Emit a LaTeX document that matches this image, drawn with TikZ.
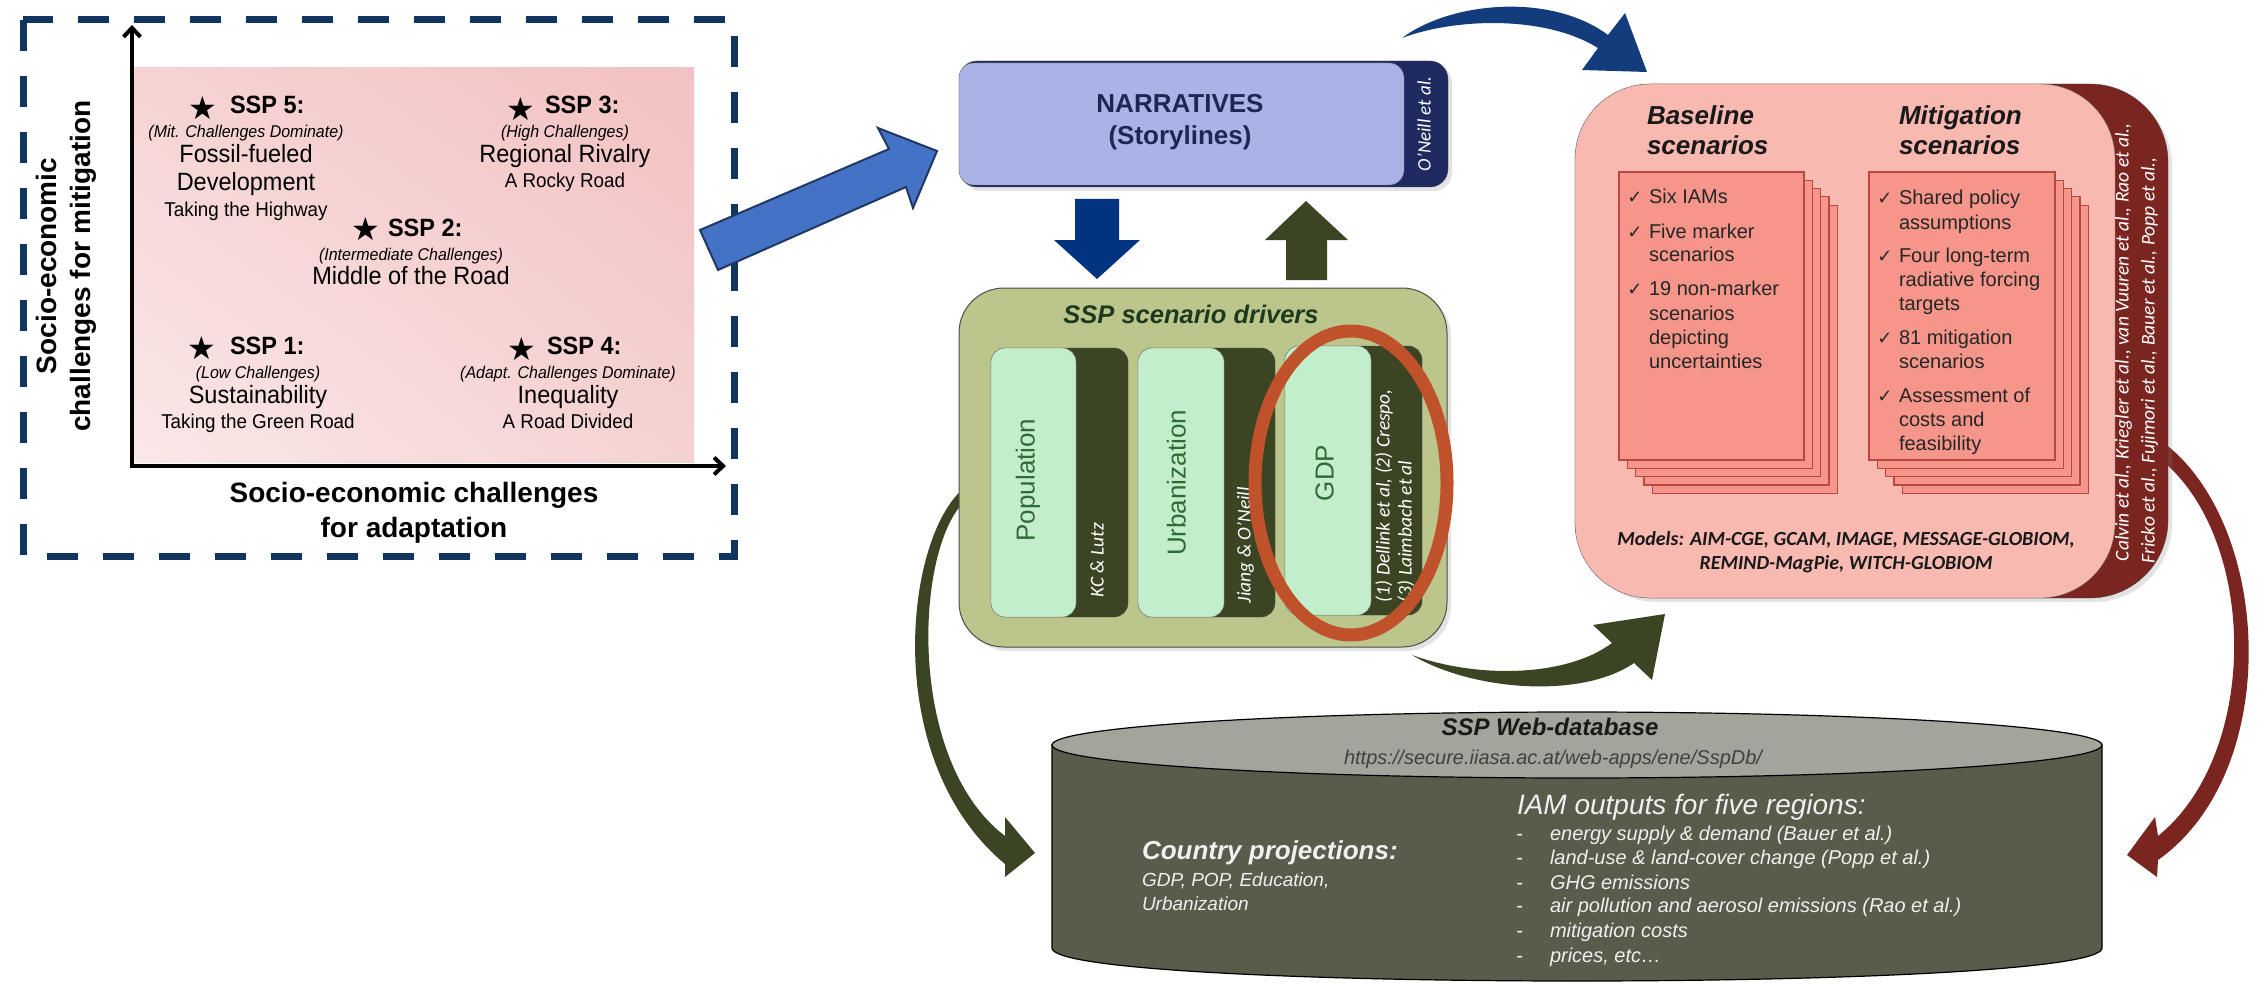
\documentclass[tikz,border=0pt]{standalone}
\usepackage{fontspec}
\setmainfont{Liberation Sans}
\newfontfamily\nar[FakeStretch=0.94]{Liberation Sans}
\newfontfamily\calf{Carlito}
\newfontfamily\dejav{DejaVu Sans}
\usetikzlibrary{arrows.meta,shadows,shadings}
\newcommand\fsz[1]{\fontsize{#1}{#1}\selectfont}
\definecolor{dashnavy}{HTML}{0F3560}
\definecolor{pUL}{HTML}{F6D3D3}
\definecolor{pUR}{HTML}{F3C1C1}
\definecolor{pLL}{HTML}{FAE8E8}
\definecolor{pLR}{HTML}{F5D2D2}
\definecolor{blueArr}{HTML}{4472C4}
\definecolor{blueArrB}{HTML}{1F3864}
\definecolor{narrFill}{HTML}{AAB3E6}
\definecolor{narrTab}{HTML}{1F2A60}
\definecolor{narrText}{HTML}{1C2752}
\definecolor{navyArr}{HTML}{003380}
\definecolor{olive}{HTML}{3B4423}
\definecolor{drvFill}{HTML}{BCC68C}
\definecolor{mint}{HTML}{C2EECC}
\definecolor{drvText}{HTML}{1E3A1E}
\definecolor{colText}{HTML}{2E6B36}
\definecolor{rust}{HTML}{C0522B}
\definecolor{salmon}{HTML}{F8B9B1}
\definecolor{pagec}{HTML}{F6968A}
\definecolor{pageB}{HTML}{B84840}
\definecolor{brownTab}{HTML}{7B2521}
\definecolor{topArr}{HTML}{123C7B}
\definecolor{cylTop}{HTML}{A4A49C}
\definecolor{cylBody}{HTML}{5A5B4B}
\begin{document}
\begin{tikzpicture}[x=1pt,y=-1pt,
  every node/.style={inner sep=0pt,outer sep=0pt,anchor=mid},
  ssph/.style={font=\nar\bfseries\fsz{25},anchor=mid west},
  sspsub/.style={font=\nar\itshape\fsz{17}},
  sspname/.style={font=\nar\fsz{25}},
  ssptag/.style={font=\nar\fsz{20}},
  starsym/.style={font=\dejav\fsz{32},anchor=center},
  axl/.style={font=\bfseries\fsz{28}},
  coltxt/.style={font=\fsz{26},text=colText,rotate=90},
  colref/.style={font=\calf\itshape\fsz{19.5},text=white,rotate=90,anchor=mid west},
  heads/.style={font=\bfseries\itshape\fsz{26},text=black!90,anchor=mid west},
  item/.style={font=\fsz{20},text=black!85,anchor=mid west},
  tick/.style={font=\dejav\fsz{18},text=black!85},
  cyl/.style={font=\itshape\fsz{20},text=white!94!black,anchor=mid west},
  tabref/.style={font=\calf\itshape\fsz{19.5},text=white,rotate=90,anchor=mid west},
  shad/.style={drop shadow={opacity=0.22,shadow xshift=4pt,shadow yshift=-4pt}}
]
\useasboundingbox (0,0) rectangle (2267,987);
\fill[white] (0,0) rectangle (2267,987);

% ---------------- left panel ----------------
\shade[upper left=pUL, upper right=pUR, lower left=pLL, lower right=pLR] (134,68) rectangle (694,462);
\draw[dashnavy, line width=7, dash pattern=on 31pt off 25pt] (23,20) rectangle (734,556);
\coordinate (org) at (132,466);
\coordinate (ytop) at (132,25);
\coordinate (xend) at (726,466);
\draw[line width=4.5, -{Straight Barb[length=9pt,width=17pt,line width=4pt]}] (org) -- (ytop);
\draw[line width=4.5, -{Straight Barb[length=9pt,width=17pt,line width=4pt]}] ([xshift=-2.25pt]org) -- (xend);

\node[axl, rotate=90] (yl1) at (54,266) {Socio-economic};
\node[axl, rotate=90] (yl2) at (88,266) {challenges for mitigation};
\node[axl] (xl1) at (414,500) {Socio-economic challenges};
\node[axl] (xl2) at (414,535) {for adaptation};

\node[starsym] (s5s) at (203,108) {★};
\node[ssph] (s5h) at (230,111) {SSP 5:};
\node[sspsub] (s5a) at (246,135) {(Mit. Challenges Dominate)};
\node[sspname] (s5b) at (246,160) {Fossil-fueled};
\node[sspname] (s5c) at (246,188) {Development};
\node[ssptag] (s5d) at (246,214) {Taking the Highway};

\node[starsym] (s3s) at (521,109) {★};
\node[ssph] (s3h) at (545,111) {SSP 3:};
\node[sspsub] (s3a) at (565,135) {(High Challenges)};
\node[sspname] (s3b) at (565,160) {Regional Rivalry};
\node[ssptag] (s3c) at (565,185) {A Rocky Road};

\node[starsym] (s2s) at (366,229) {★};
\node[ssph] (s2h) at (388,234) {SSP 2:};
\node[sspsub] (s2a) at (411,258) {(Intermediate Challenges)};
\node[sspname] (s2b) at (411,282) {Middle of the Road};

\node[starsym] (s1s) at (202,348) {★};
\node[ssph] (s1h) at (230,352) {SSP 1:};
\node[sspsub] (s1a) at (258,376) {(Low Challenges)};
\node[sspname] (s1b) at (258,401) {Sustainability};
\node[ssptag] (s1c) at (258,426) {Taking the Green Road};

\node[starsym] (s4s) at (522,349) {★};
\node[ssph] (s4h) at (547,352) {SSP 4:};
\node[sspsub] (s4a) at (568,376) {(Adapt. Challenges Dominate)};
\node[sspname] (s4b) at (568,401) {Inequality};
\node[ssptag] (s4c) at (568,426) {A Road Divided};

% big blue block arrow
\draw[fill=blueArr, draw=blueArrB, line width=2, line join=miter] (700,230) -- (889,149) -- (878,128) -- (937,151) -- (913,208) -- (906,187) -- (718,270) -- cycle;

% ---------------- curved arrows (behind boxes) ----------------
\fill[topArr] (1402,38) .. controls (1450,2) and (1550,-8) .. (1608,35) -- (1625,13) -- (1647,72) -- (1582,70) -- (1598,48) .. controls (1545,15) and (1455,18) .. (1402,38) -- cycle;
\fill[olive] (962,490) .. controls (905,540) and (880,760) .. (1005,864) -- (1005,877) -- (1035,853) -- (1005,817) -- (1005,836) .. controls (905,760) and (915,545) .. (966,500) -- cycle;
\fill[olive] (1412,655) .. controls (1470,690) and (1580,700) .. (1634,663) -- (1652,680) -- (1665,614) -- (1593,625) -- (1612,643) .. controls (1565,678) and (1475,678) .. (1412,655) -- cycle;
\fill[brownTab] (2160,440) .. controls (2272,520) and (2285,770) .. (2158,860) -- (2157,877) -- (2127,855) -- (2155,817) -- (2158,836) .. controls (2262,752) and (2258,530) .. (2155,455) -- cycle;

% ---------------- narratives ----------------
\draw[fill=narrTab, draw=black!70, rounded corners=18, shad] (959,61) rectangle (1448,187);
\draw[fill=narrFill, draw=black!55, rounded corners=15] (959,63) rectangle (1404,185);
\node[font=\bfseries\fsz{26}, text=narrText] (narr1) at (1180,110) {NARRATIVES};
\node[font=\bfseries\fsz{26}, text=narrText] (narr2) at (1180,142) {(Storylines)};
\node[font=\calf\itshape\fsz{19}, text=white, rotate=90] (oneill) at (1428,124) {O’Neill et al.};

\fill[navyArr] (1075,199) -- (1119,199) -- (1119,240) -- (1140,240) -- (1097,279) -- (1054,240) -- (1075,240) -- cycle;
\fill[olive] (1286,280) -- (1327,280) -- (1327,240) -- (1348,240) -- (1306,201) -- (1265,240) -- (1286,240) -- cycle;

% ---------------- drivers ----------------
\draw[fill=drvFill, draw=black!70, line width=1, rounded corners=45, shad] (959,288) rectangle (1447,647);
\node[font=\bfseries\itshape\fsz{25.5}, text=drvText] (drv) at (1191,321) {SSP scenario drivers};
\draw[fill=olive, draw=black!70, rounded corners=14] (991,348) rectangle (1128,617);
\draw[fill=mint, draw=black!50, rounded corners=14] (991,348) rectangle (1076,617);
\draw[fill=olive, draw=black!70, rounded corners=14] (1138,348) rectangle (1275,617);
\draw[fill=mint, draw=black!50, rounded corners=14] (1138,348) rectangle (1224,617);
\draw[fill=olive, draw=black!70, rounded corners=14] (1285,346) rectangle (1422,615);
\draw[fill=mint, draw=black!50, rounded corners=14] (1285,346) rectangle (1371,615);
\node[coltxt] (pop) at (1032,480) {Population};
\node[coltxt] (urb) at (1183,483) {Urbanization};
\node[coltxt] (gdp) at (1331,473) {GDP};
\node[colref] (kc) at (1101,597) {KC \& Lutz};
\node[colref] (jiang) at (1248,603) {Jiang \& O’Neill};
\node[colref] (dell) at (1387,602) {(1) Dellink et al, (2) Crespo,};
\node[colref] (laim) at (1409,602) {(3) Laimbach et al};
\draw[rust, line width=13] (1351,483) ellipse[x radius=96, y radius=152];

% ---------------- IAM box ----------------
\draw[fill=brownTab, draw=black!70, rounded corners=78, shad] (1575,84) rectangle (2168,598);
\draw[fill=salmon, draw=black!60, rounded corners=75] (1575,84) rectangle (2115,598);
\node[heads] (bh1) at (1647,122) {Baseline};
\node[heads] (bh2) at (1647,152) {scenarios};
\node[heads] (mh1) at (1899,122) {Mitigation};
\node[heads] (mh2) at (1899,152) {scenarios};
\foreach \i in {4,3,2,1,0}{
  \draw[fill=pagec, draw=pageB, line width=1.2, shift={(8.3*\i,8.3*\i)}] (1619,172) rectangle (1804,460);
  \draw[fill=pagec, draw=pageB, line width=1.2, shift={(8.3*\i,8.3*\i)}] (1869,172) rectangle (2055,460);
}
\node[tick] (bt1) at (1635,201) {✓};
\node[tick] (bt2) at (1635,236) {✓};
\node[tick] (bt3) at (1635,293) {✓};
\node[item] (bi1) at (1649,201) {Six IAMs};
\node[item] (bi2) at (1649,236) {Five marker};
\node[item] (bi3) at (1649,259) {scenarios};
\node[item] (bi4) at (1649,293) {19 non-marker};
\node[item] (bi5) at (1649,318) {scenarios};
\node[item] (bi6) at (1649,342) {depicting};
\node[item] (bi7) at (1649,366) {uncertainties};
\node[tick] (mt1) at (1885,202) {✓};
\node[tick] (mt2) at (1885,260) {✓};
\node[tick] (mt3) at (1885,342) {✓};
\node[tick] (mt4) at (1885,400) {✓};
\node[item] (mi1) at (1899,202) {Shared policy};
\node[item] (mi2) at (1899,227) {assumptions};
\node[item] (mi3) at (1899,260) {Four long-term};
\node[item] (mi4) at (1899,284) {radiative forcing};
\node[item] (mi5) at (1899,308) {targets};
\node[item] (mi6) at (1899,342) {81 mitigation};
\node[item] (mi7) at (1899,366) {scenarios};
\node[item] (mi8) at (1899,400) {Assessment of};
\node[item] (mi9) at (1899,424) {costs and};
\node[item] (mi10) at (1899,448) {feasibility};
\node[font=\calf\bfseries\itshape\fsz{20}, text=black!90] (mod1) at (1846,543) {Models: AIM-CGE, GCAM, IMAGE, MESSAGE-GLOBIOM,};
\node[font=\calf\bfseries\itshape\fsz{20}, text=black!90] (mod2) at (1846,567) {REMIND-MagPie, WITCH-GLOBIOM};
\node[tabref] (ref1) at (2126,561) {Calvin et al., Kriegler et al., van Vuuren et al., Rao et al.,};
\node[tabref] (ref2) at (2152,563) {Fricko et al., Fujimori et al., Bauer et al., Popp et al.,};

% ---------------- database cylinder ----------------
\draw[fill=cylBody, draw=black, line width=1.2] (1052,745) -- (1052,948) .. controls (1052,992) and (2102,992) .. (2102,948) -- (2102,745) -- cycle;
\draw[fill=cylTop, draw=black, line width=1.2] (1577,745) ellipse[x radius=525, y radius=33];
\node[font=\bfseries\itshape\fsz{24}, text=black!90] (db) at (1550,733) {SSP Web-database};
\node[font=\itshape\fsz{20}, text=black!75] (url) at (1553,762) {https://secure.iiasa.ac.at/web-apps/ene/SspDb/};
\node[cyl, font=\bfseries\itshape\fsz{26}] (cp) at (1142,857) {Country projections:};
\node[cyl, font=\itshape\fsz{19}] (cp1) at (1142,884) {GDP, POP, Education,};
\node[cyl, font=\itshape\fsz{19}] (cp2) at (1142,908) {Urbanization};
\node[cyl, font=\itshape\fsz{28}] (iam) at (1517,812) {IAM outputs for five regions:};
\foreach \yy/\tt [count=\k] in {838/energy supply \& demand (Bauer et al.),862/land-use \& land-cover change (Popp et al.),887/GHG emissions,910/air pollution and aerosol emissions (Rao et al.),935/mitigation costs,960/{prices, etc…}}{
  \node[cyl] (dash\k) at (1516,\yy) {-};
  \node[cyl] (out\k) at (1550,\yy) {\tt};
}
\end{tikzpicture}
\end{document}
